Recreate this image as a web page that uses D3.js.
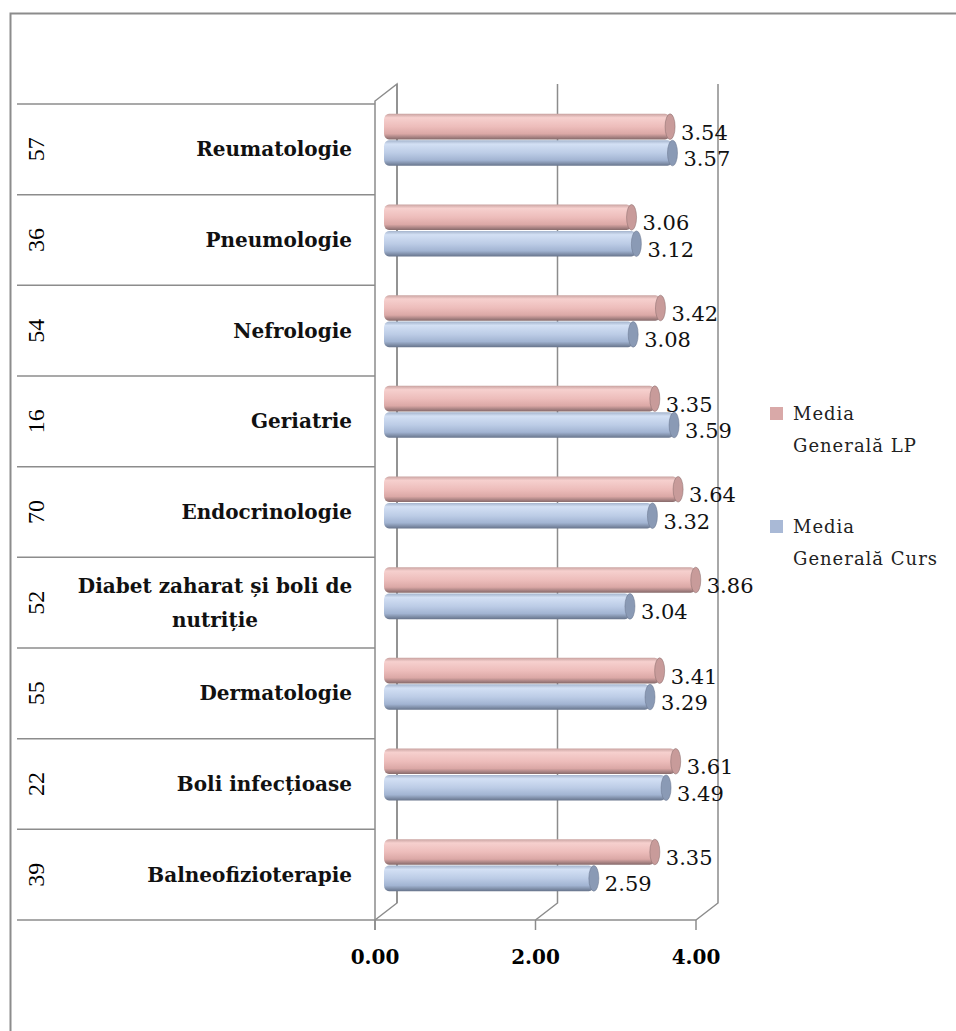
<!DOCTYPE html>
<html>
<head>
<meta charset="utf-8">
<script src="https://cdn.jsdelivr.net/npm/d3@7"></script>
<style>
  body { margin: 0; background: #fff; }
  svg { display: block; }
</style>
</head>
<body>
<script>
var categories = ['Reumatologie', 'Pneumologie', 'Nefrologie', 'Geriatrie', 'Endocrinologie',
    'Diabet zaharat și boli de nutriție', 'Dermatologie', 'Boli infecțioase', 'Balneofizioterapie'];
var counts = [57, 36, 54, 16, 70, 52, 55, 22, 39];
var mediaLP = [3.54, 3.06, 3.42, 3.35, 3.64, 3.86, 3.41, 3.61, 3.35];
var mediaCurs = [3.57, 3.12, 3.08, 3.59, 3.32, 3.04, 3.29, 3.49, 2.59];
var seriesNames = ['Media Generală LP', 'Media Generală Curs'];
var ticks = [0, 2, 4];

var width = 956, height = 1031;
var gridColor = '#8c8c8c';
var serif = '"DejaVu Serif", "Liberation Serif", serif';

// 3D depth offset of the plot box
var depthX = 22, depthY = -17;
var floorY = 920;

var svg = d3.select('body').append('svg')
    .attr('width', width)
    .attr('height', height);

// gradients for the cylinder look
var defs = svg.append('defs');
var gradStops = {
    lp: ['#c9a3a1', '#f6d0ce', '#edbdbb', '#dba8a6', '#85696a'],
    curs: ['#a3b3cc', '#d3e0f4', '#bccce6', '#a2b4d2', '#67748b']
};
Object.keys(gradStops).forEach(function (k) {
    var g = defs.append('linearGradient').attr('id', 'g-' + k)
        .attr('x1', 0).attr('y1', 0).attr('x2', 0).attr('y2', 1);
    [0, 0.15, 0.5, 0.78, 1].forEach(function (o, i) {
        g.append('stop').attr('offset', o).attr('stop-color', gradStops[k][i]);
    });
});
var capColor = { lp: '#c89b9a', curs: '#8a9ab5' };

// scales
var x = d3.scaleLinear().domain([0, 4]).range([375, 696]);
var y = d3.scaleBand().domain(categories).range([104, floorY]);
var inner = d3.scaleBand().domain(['lp', 'curs']).range([-26, 26]).paddingInner(0.03);

// outer border
svg.append('rect')
    .attr('x', 10.5).attr('y', 13.5)
    .attr('width', 980).attr('height', 1060)
    .attr('fill', 'none')
    .attr('stroke', gridColor)
    .attr('stroke-width', 2);

// table row lines
var rowEdges = categories.map(function (c) { return y(c); }).concat([floorY]);
svg.selectAll('line.row').data(rowEdges).enter().append('line')
    .attr('x1', 17).attr('x2', x(0))
    .attr('y1', function (d) { return d; })
    .attr('y2', function (d) { return d; })
    .attr('stroke', gridColor).attr('stroke-width', 1.5);

// left wall
svg.append('path')
    .attr('d', 'M' + x(0) + ',' + (floorY + 10) + 'V' + (y.range()[0] - 3) +
        'L' + (x(0) + depthX) + ',' + (y.range()[0] - 3 + depthY) +
        'V' + (floorY + depthY))
    .attr('fill', 'none').attr('stroke', gridColor).attr('stroke-width', 1.5);

// back gridlines and floor diagonals
ticks.forEach(function (t) {
    svg.append('path')
        .attr('d', 'M' + x(t) + ',' + floorY + 'L' + (x(t) + depthX) + ',' + (floorY + depthY) +
            'V' + (y.range()[0] - 3 + depthY))
        .attr('fill', 'none').attr('stroke', gridColor).attr('stroke-width', 1.5);
});

// floor front edge + ticks
svg.append('line')
    .attr('x1', x(0)).attr('x2', x(4))
    .attr('y1', floorY).attr('y2', floorY)
    .attr('stroke', gridColor).attr('stroke-width', 1.5);
svg.selectAll('line.tick').data(ticks).enter().append('line')
    .attr('x1', function (d) { return x(d); })
    .attr('x2', function (d) { return x(d); })
    .attr('y1', floorY).attr('y2', floorY + 10)
    .attr('stroke', gridColor).attr('stroke-width', 1.5);
svg.selectAll('text.tick').data(ticks).enter().append('text')
    .attr('x', function (d) { return x(d); })
    .attr('y', floorY + 44)
    .attr('text-anchor', 'middle')
    .style('font-family', serif)
    .style('font-size', '20px')
    .style('font-weight', 'bold')
    .text(function (d) { return d3.format('.2f')(d); });

// bars
var barX = function (v) { return x(v) + depthX / 2; };
categories.forEach(function (c, i) {
    var pairC = y(c) + y.bandwidth() / 2 + depthY / 2 - 1;
    [['lp', mediaLP[i]], ['curs', mediaCurs[i]]].forEach(function (s) {
        var key = s[0], v = s[1];
        var top = pairC + inner(key), h = inner.bandwidth();
        svg.append('rect')
            .attr('x', barX(0) - 2).attr('y', top)
            .attr('width', barX(v) - barX(0) + 2).attr('height', h)
            .attr('rx', 5).attr('ry', 6)
            .attr('fill', 'url(#g-' + key + ')');
        svg.append('ellipse')
            .attr('cx', barX(v)).attr('cy', top + h / 2)
            .attr('rx', 5).attr('ry', h / 2)
            .attr('fill', capColor[key])
            .attr('stroke', gradStops[key][4]).attr('stroke-opacity', 0.5);
        svg.append('text')
            .attr('x', barX(v) + 11)
            .attr('y', top + h / 2 + 13)
            .style('font-family', serif)
            .style('font-size', '21px')
            .attr('fill', '#111')
            .text(d3.format('.2f')(v));
    });
});

// counts column
svg.selectAll('text.count').data(categories).enter().append('text')
    .attr('transform', function (d) { return 'translate(36,' + (y(d) + y.bandwidth() / 2) + ') rotate(-90)'; })
    .attr('text-anchor', 'middle')
    .attr('dominant-baseline', 'central')
    .style('font-family', '"Liberation Serif", serif')
    .style('font-size', '24px')
    .text(function (d, i) { return counts[i]; });

// category labels (wrapped when too long)
categories.forEach(function (c) {
    var cy = y(c) + y.bandwidth() / 2;
    var t = svg.append('text')
        .style('font-family', serif)
        .style('font-size', '20px')
        .style('font-weight', 'bold')
        .attr('fill', '#111');
    t.text(c);
    if (t.node().getComputedTextLength() <= 285) {
        t.attr('x', 352).attr('y', cy + 7).attr('text-anchor', 'end');
        return;
    }
    var words = c.split(' '), lines = [], cur = [];
    t.text('');
    words.forEach(function (w) {
        t.text(cur.concat([w]).join(' '));
        if (t.node().getComputedTextLength() > 285 && cur.length) {
            lines.push(cur.join(' '));
            cur = [w];
        } else {
            cur.push(w);
        }
    });
    lines.push(cur.join(' '));
    t.text('').attr('text-anchor', 'middle');
    lines.forEach(function (l, k) {
        t.append('tspan')
            .attr('x', 215)
            .attr('y', cy + 7 + (k - (lines.length - 1) / 2) * 34)
            .text(l);
    });
});

// legend
var legendColors = ['#d9a9a8', '#a9b9d6'];
var legendTop = [407, 520];
seriesNames.forEach(function (name, i) {
    svg.append('rect')
        .attr('x', 770).attr('y', legendTop[i])
        .attr('width', 13).attr('height', 13)
        .attr('fill', legendColors[i]);
    var parts = [name.split(' ')[0], name.split(' ').slice(1).join(' ')];
    parts.forEach(function (p, k) {
        svg.append('text')
            .attr('x', 793)
            .attr('y', legendTop[i] + 13 + k * 32)
            .style('font-family', serif)
            .style('font-size', '18px')
            .style('letter-spacing', '1px')
            .attr('fill', '#222')
            .text(p);
    });
});
</script>
</body>
</html>
